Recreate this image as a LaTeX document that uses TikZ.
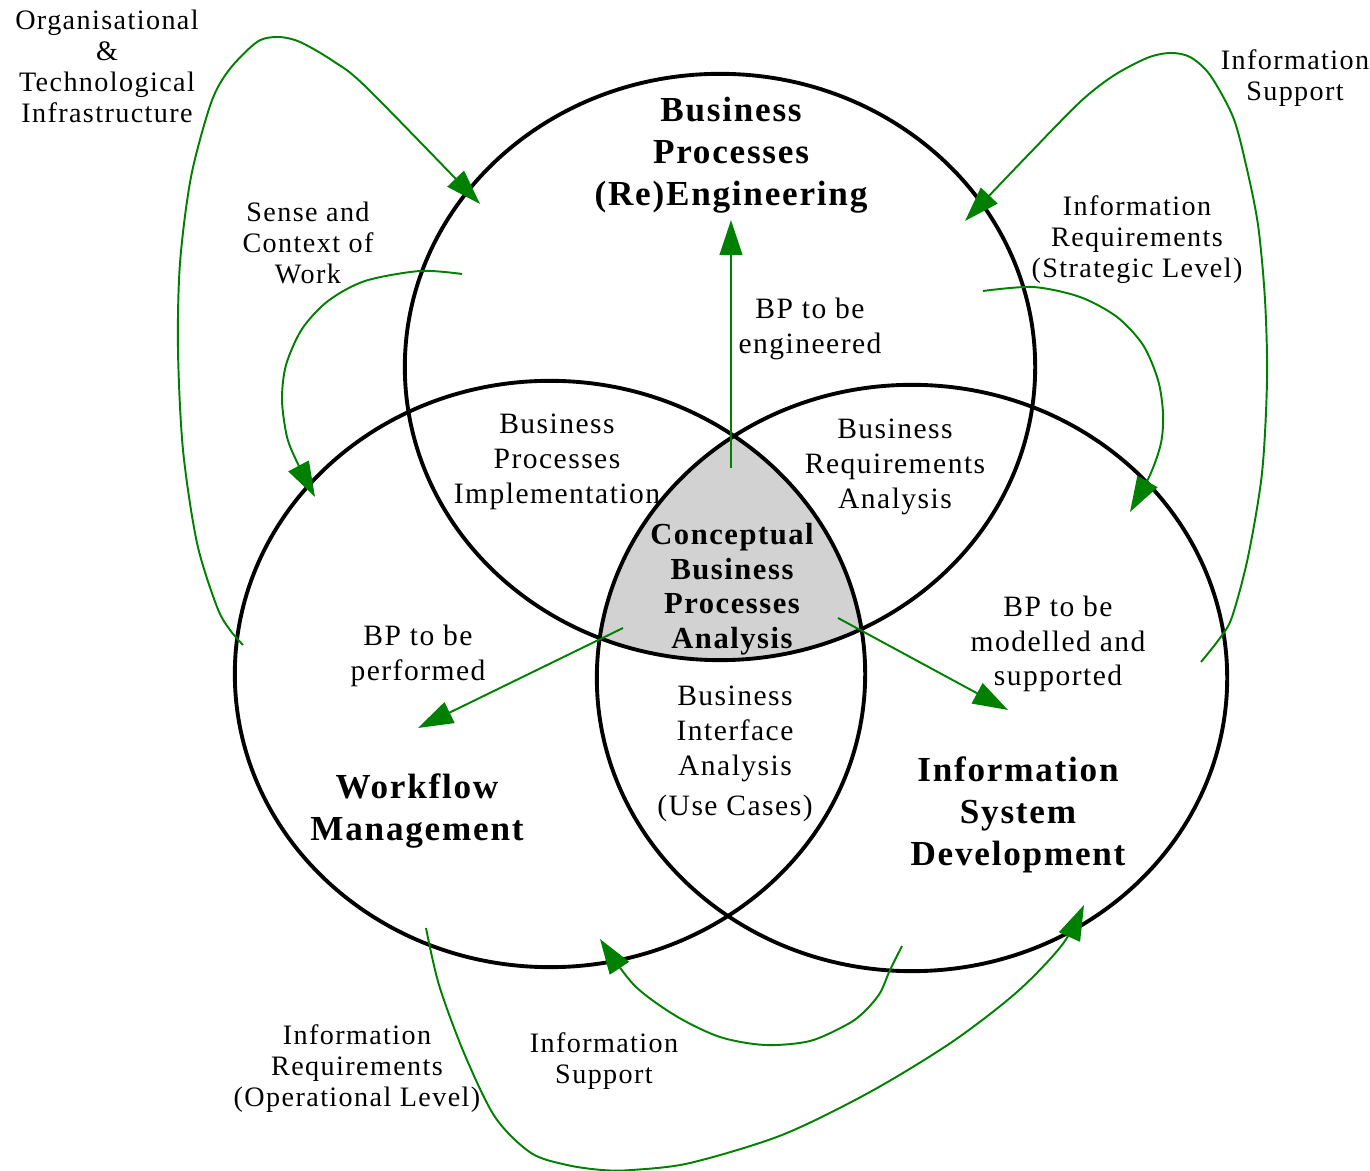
\documentclass[tikz,border=0pt]{standalone}
\usepackage{fontspec}
\setmainfont{Liberation Serif}[LetterSpace=5]
\usetikzlibrary{arrows.meta}

\tikzset{
  venn/.style={line width=1.1pt},
  flow/.style={green!50!black, line width=0.55pt, -{Triangle[length=10pt,width=6.5pt]}},
  small/.style={align=center, inner sep=0pt, font=\fontsize{8}{8.8}\selectfont},
  mid/.style={align=center, inner sep=0pt, font=\fontsize{8.4}{9.9}\selectfont},
  title/.style={align=center, inner sep=0pt, font=\fontsize{10}{12}\selectfont\bfseries},
  core/.style={align=center, inner sep=0pt, font=\fontsize{8.7}{9.8}\selectfont\bfseries},
}
\newcommand{\vennring}[2]{(#1,#2) ellipse [x radius=3.15cm, y radius=2.93cm]}

\begin{document}
\begin{tikzpicture}[x=0.01cm, y=-0.01cm]
    \useasboundingbox (0,0) rectangle (1370,1171);

    % shaded core where all three meet
    \begin{scope}
        \clip \vennring{720}{367};
        \clip \vennring{550}{674};
        \fill[gray!35] \vennring{912}{678};
    \end{scope}

    % the three rings
    \draw[venn] \vennring{720}{367};
    \draw[venn] \vennring{550}{674};
    \draw[venn] \vennring{912}{678};

    % arrow ends
    \coordinate (midUp) at (731,468);
    \coordinate (bpeTip) at (731,220);
    \coordinate (midLeft) at (623,628);
    \coordinate (bppTip) at (418,728);
    \coordinate (midRight) at (838,618);
    \coordinate (bpmTip) at (1008,710);

    \coordinate (orgStart) at (243,645);
    \coordinate (orgTip) at (480,204);
    \coordinate (senseStart) at (462,274);
    \coordinate (senseTip) at (315,497);
    \coordinate (supStart) at (1201,662);
    \coordinate (supTip) at (965,221);
    \coordinate (strStart) at (983,291);
    \coordinate (strTip) at (1130,512);
    \coordinate (opStart) at (426,928);
    \coordinate (opTip) at (1084,905);
    \coordinate (isStart) at (902,946);
    \coordinate (isTip) at (600,939);

    % straight arrows out of the core
    \draw[flow] (midUp) -- (bpeTip);
    \draw[flow] (midLeft) -- (bppTip);
    \draw[flow] (midRight) -- (bpmTip);

    % curved arrows round the rings
    \draw[flow] plot[smooth] coordinates {(orgStart) (230,630) (217,607) (197,543) (183,450)
        (178,350) (180,263) (191,177) (211,103) (229,70) (257,42) (278,37) (300,42)
        (333,61) (367,88) (orgTip)};
    \draw[flow] plot[smooth] coordinates {(senseStart) (420,271) (365,281) (328,301)
        (302,329) (286,365) (282,400) (287,437) (297,462) (senseTip)};
    \draw[flow] plot[smooth] coordinates {(supStart) (1220,638) (1232,617) (1248,557)
        (1262,473) (1267,380) (1265,300) (1258,225) (1246,165) (1233,117) (1210,75)
        (1190,57) (1170,53) (1147,58) (1113,76) (1080,102) (1030,153) (supTip)};
    \draw[flow] plot[smooth] coordinates {(strStart) (1033,287) (1080,297) (1117,317)
        (1143,345) (1158,380) (1163,413) (1161,443) (1150,475) (strTip)};
    \draw[flow] plot[smooth] coordinates {(opStart) (439,985) (464,1053) (495,1117)
        (531,1153) (567,1165) (602,1170) (632,1170) (690,1163) (782,1135) (870,1092)
        (952,1042) (1017,992) (1062,945) (opTip)};
    \draw[flow] plot[smooth] coordinates {(isStart) (890,970) (880,993) (865,1011)
        (848,1024) (810,1041) (765,1045) (720,1037) (676,1016) (634,985) (isTip)};

    % ring titles
    \node[title] (bpre) at (731,155) {Business\\Processes\\(Re)Engineering};
    \node[title] (wfm) at (417,811) {Workflow\\Management};
    \node[title] (isd) at (1018,815) {Information\\System\\Development};
    \node[core] (cbpa) at (732,589) {Conceptual\\Business\\Processes\\Analysis};

    % overlaps
    \node[mid] (bpi) at (557,462) {Business\\Processes\\Implementation};
    \node[mid] (bra) at (895,467) {Business\\Requirements\\Analysis};
    \node[mid] (bia) at (735,754) {Business\\Interface\\Analysis\\[1.5pt](Use Cases)};

    % flow labels
    \node[mid] (bpe) at (810,329) {BP to be\\engineered};
    \node[mid] (bpp) at (418,656) {BP to be\\performed};
    \node[mid] (bpm) at (1058,644) {BP to be\\modelled and\\supported};

    % outer labels
    \node[small] (org) at (107,66) {Organisational\\\&\\Technological\\Infrastructure};
    \node[small] (sense) at (308,243) {Sense and\\Context of\\Work};
    \node[small] (infsup) at (1295,78) {Information\\Support};
    \node[small] (irstr) at (1137,240) {Information\\Requirements\\(Strategic Level)};
    \node[small] (irop) at (357,1069) {Information\\Requirements\\(Operational Level)};
    \node[small] (infsup2) at (604,1061) {Information\\Support};
\end{tikzpicture}
\end{document}
